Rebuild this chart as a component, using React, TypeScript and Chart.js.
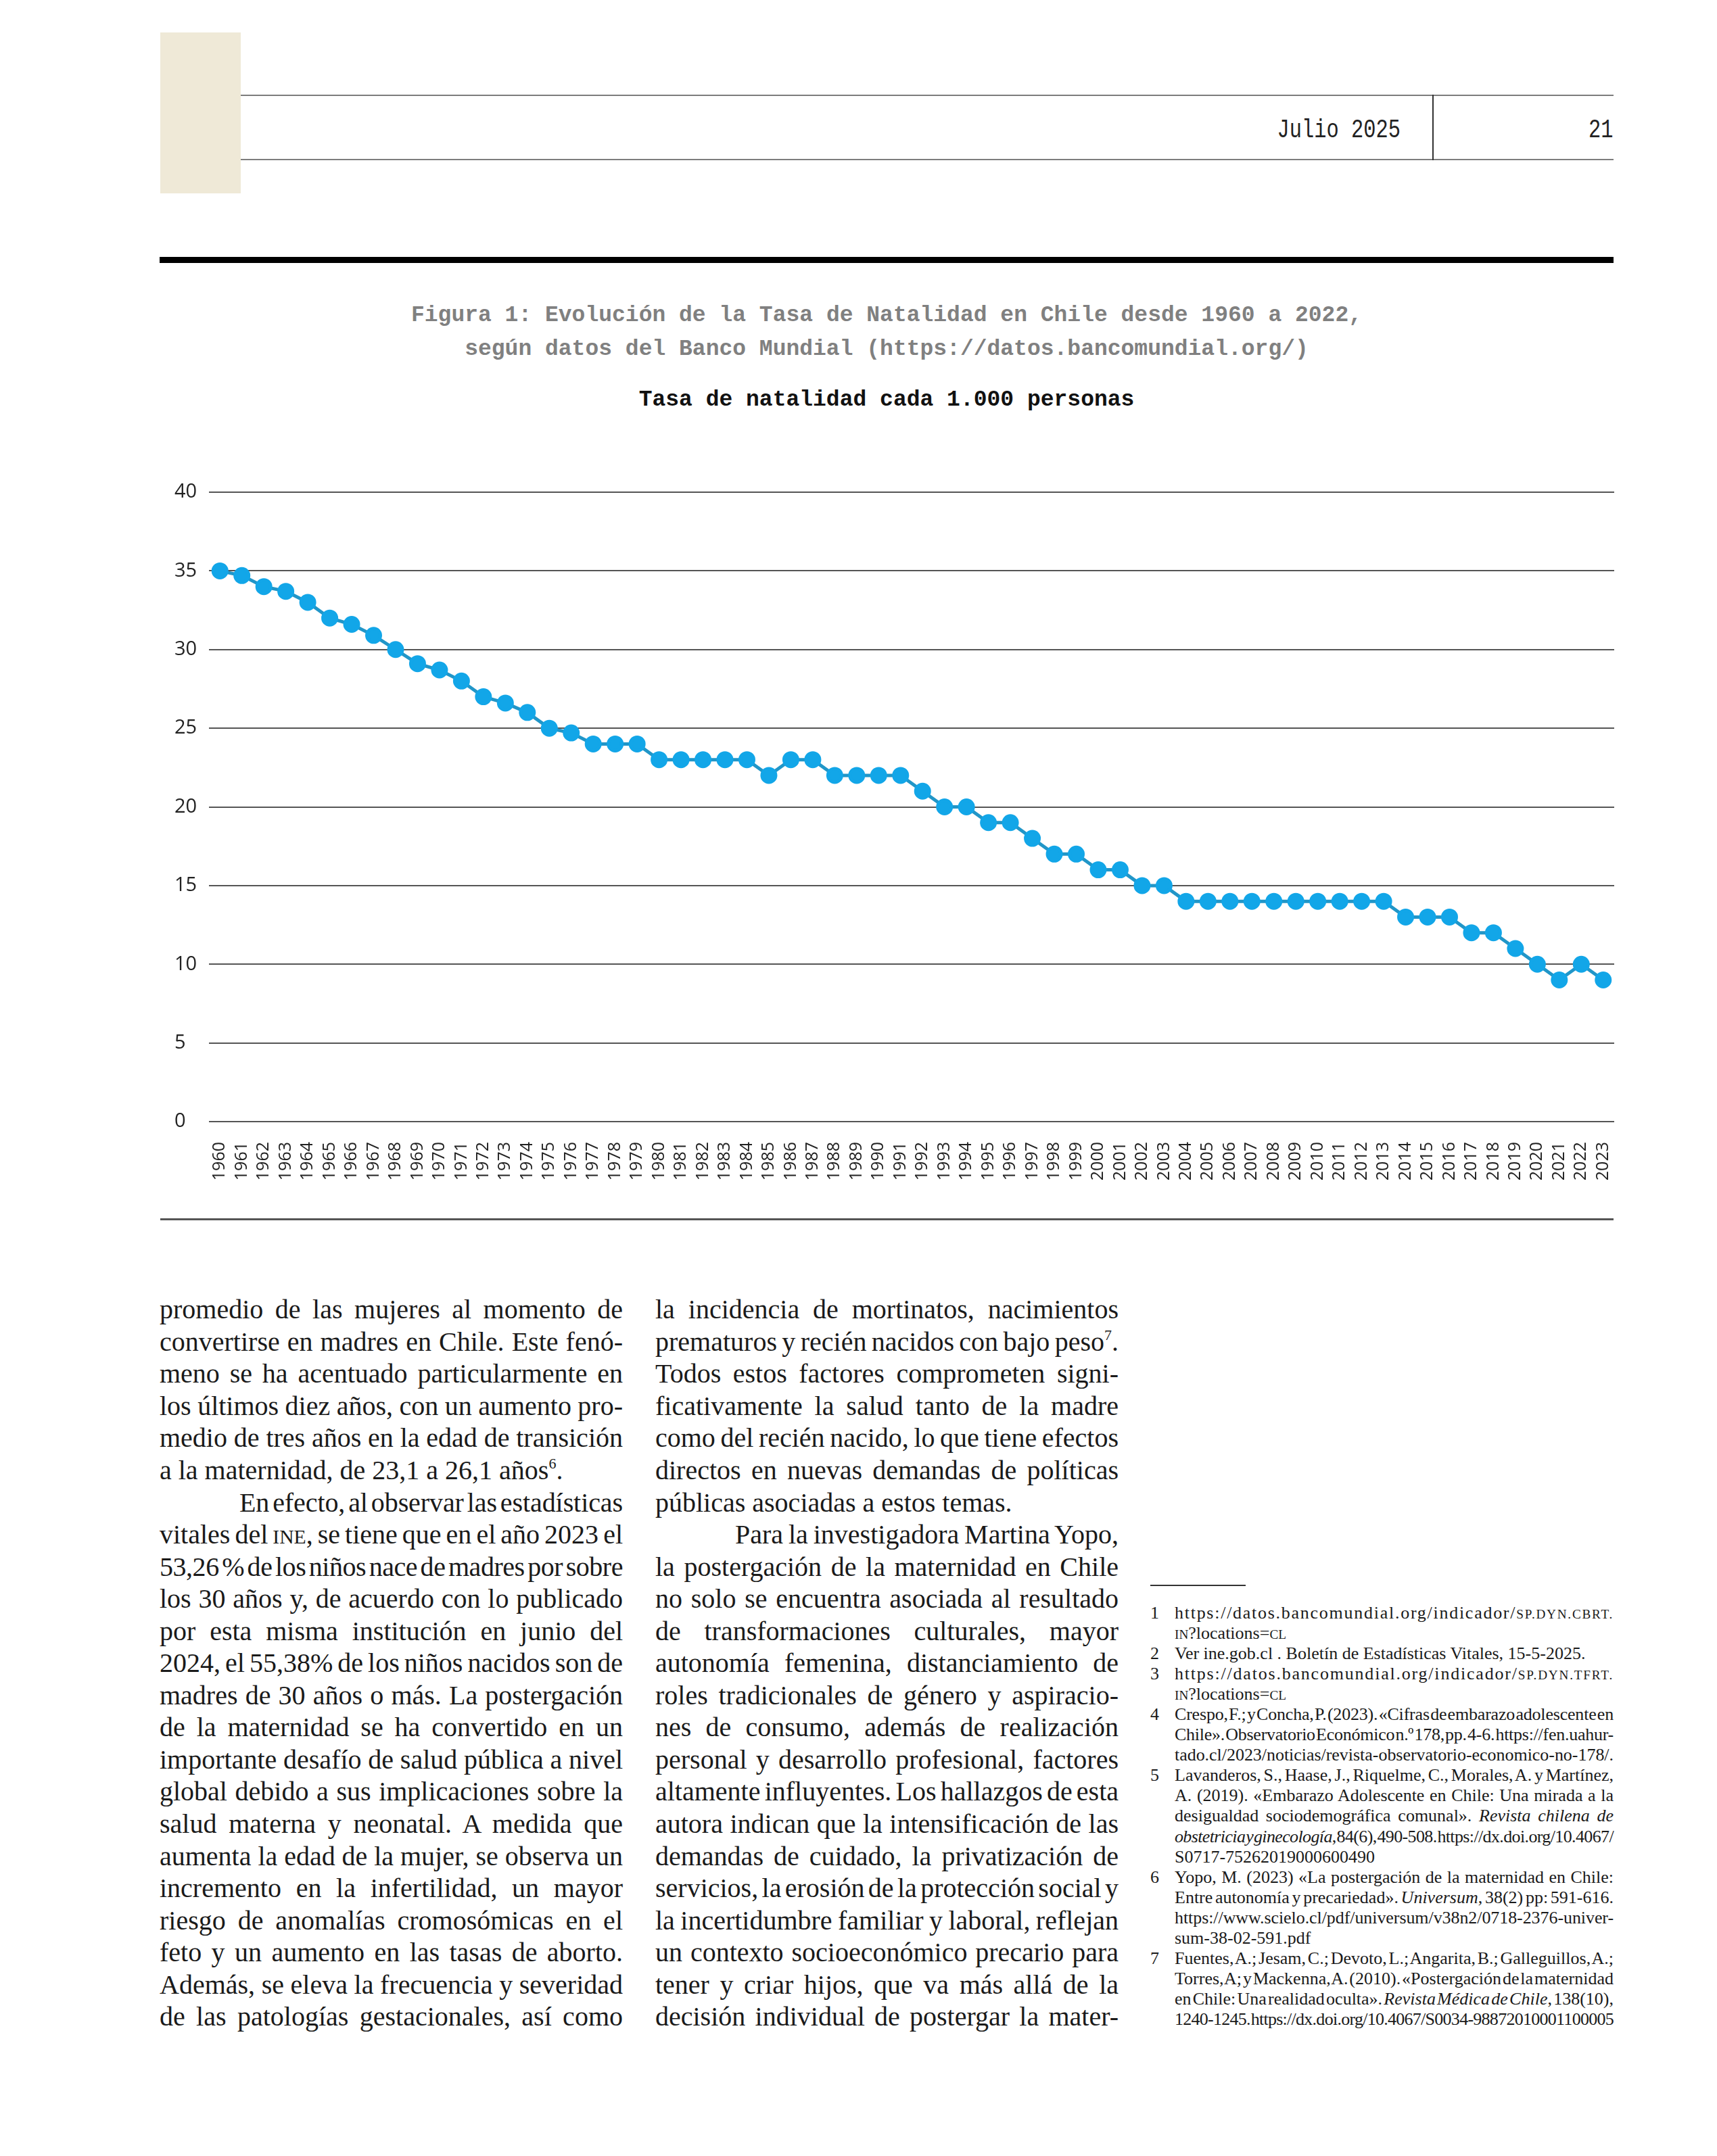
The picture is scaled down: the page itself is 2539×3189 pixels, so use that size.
import React, { useEffect, useLayoutEffect, useRef } from "react";
import { Chart, registerables } from "chart.js";

Chart.register(...registerables);

// ---------- chart data ----------
const yearLabels = [
  "1960", "1961", "1962", "1963", "1964", "1965", "1966", "1967", "1968", "1969",
  "1970", "1971", "1972", "1973", "1974", "1975", "1976", "1977", "1978", "1979",
  "1980", "1981", "1982", "1983", "1984", "1985", "1986", "1987", "1988", "1989",
  "1990", "1991", "1992", "1993", "1994", "1995", "1996", "1997", "1998", "1999",
  "2000", "2001", "2002", "2003", "2004", "2005", "2006", "2007", "2008", "2009",
  "2010", "2011", "2012", "2013", "2014", "2015", "2016", "2017", "2018", "2019",
  "2020", "2021", "2022", "2023",
];

const birthRate = [
  35, 34.7, 34, 33.7, 33, 32, 31.6, 30.9, 30, 29.1,
  28.7, 28, 27, 26.6, 26, 25, 24.7, 24, 24, 24,
  23, 23, 23, 23, 23, 22, 23, 23, 22, 22,
  22, 22, 21, 20, 20, 19, 19, 18, 17, 17,
  16, 16, 15, 15, 14, 14, 14, 14, 14, 14,
  14, 14, 14, 14, 13, 13, 13, 12, 12, 11,
  10, 9, 10, 9,
];

const yAxisMin = 0;
const yAxisMax = 40;
const yAxisStep = 5;

// ---------- page text ----------
const headerDate = "Julio 2025";
const headerPage = "21";
const figureTitle1 = "Figura 1: Evolución de la Tasa de Natalidad en Chile desde 1960 a 2022,";
const figureTitle2 = "según datos del Banco Mundial (https://datos.bancomundial.org/)";
const chartTitle = "Tasa de natalidad cada 1.000 personas";

type Line = { t: string; j: boolean; ind?: boolean; n?: string };

const col1Lines: Line[] = [
  { t: "promedio de las mujeres al momento de", j: true },
  { t: "convertirse en madres en Chile. Este fenó-", j: true },
  { t: "meno se ha acentuado particularmente en", j: true },
  { t: "los últimos diez años, con un aumento pro-", j: true },
  { t: "medio de tres años en la edad de transición", j: true },
  { t: "a la maternidad, de 23,1 a 26,1 años^6.", j: false },
  { t: "En efecto, al observar las estadísticas", j: true, ind: true },
  { t: "vitales del {INE}, se tiene que en el año 2023 el", j: true },
  { t: "53,26 % de los niños nace de madres por sobre", j: true },
  { t: "los 30 años y, de acuerdo con lo publicado", j: true },
  { t: "por esta misma institución en junio del", j: true },
  { t: "2024, el 55,38% de los niños nacidos son de", j: true },
  { t: "madres de 30 años o más. La postergación", j: true },
  { t: "de la maternidad se ha convertido en un", j: true },
  { t: "importante desafío de salud pública a nivel", j: true },
  { t: "global debido a sus implicaciones sobre la", j: true },
  { t: "salud materna y neonatal. A medida que", j: true },
  { t: "aumenta la edad de la mujer, se observa un", j: true },
  { t: "incremento en la infertilidad, un mayor", j: true },
  { t: "riesgo de anomalías cromosómicas en el", j: true },
  { t: "feto y un aumento en las tasas de aborto.", j: true },
  { t: "Además, se eleva la frecuencia y severidad", j: true },
  { t: "de las patologías gestacionales, así como", j: true },
];

const col2Lines: Line[] = [
  { t: "la incidencia de mortinatos, nacimientos", j: true },
  { t: "prematuros y recién nacidos con bajo peso^7.", j: true },
  { t: "Todos estos factores comprometen signi-", j: true },
  { t: "ficativamente la salud tanto de la madre", j: true },
  { t: "como del recién nacido, lo que tiene efectos", j: true },
  { t: "directos en nuevas demandas de políticas", j: true },
  { t: "públicas asociadas a estos temas.", j: false },
  { t: "Para la investigadora Martina Yopo,", j: true, ind: true },
  { t: "la postergación de la maternidad en Chile", j: true },
  { t: "no solo se encuentra asociada al resultado", j: true },
  { t: "de transformaciones culturales, mayor", j: true },
  { t: "autonomía femenina, distanciamiento de", j: true },
  { t: "roles tradicionales de género y aspiracio-", j: true },
  { t: "nes de consumo, además de realización", j: true },
  { t: "personal y desarrollo profesional, factores", j: true },
  { t: "altamente influyentes. Los hallazgos de esta", j: true },
  { t: "autora indican que la intensificación de las", j: true },
  { t: "demandas de cuidado, la privatización de", j: true },
  { t: "servicios, la erosión de la protección social y", j: true },
  { t: "la incertidumbre familiar y laboral, reflejan", j: true },
  { t: "un contexto socioeconómico precario para", j: true },
  { t: "tener y criar hijos, que va más allá de la", j: true },
  { t: "decisión individual de postergar la mater-", j: true },
];

const footnoteLines: Line[] = [
  { n: "1", t: "https://datos.bancomundial.org/indicador/{SP.DYN.CBRT.}", j: true },
  { t: "{IN}?locations={CL}", j: false },
  { n: "2", t: "Ver ine.gob.cl . Boletín de Estadísticas Vitales, 15-5-2025.", j: false },
  { n: "3", t: "https://datos.bancomundial.org/indicador/{SP.DYN.TFRT.}", j: true },
  { t: "{IN}?locations={CL}", j: false },
  { n: "4", t: "Crespo, F.; y Concha, P. (2023). «Cifras de embarazo adolescente en", j: true },
  { t: "Chile». Observatorio Económico n.º 178, pp. 4-6. https://fen.uahur-", j: true },
  { t: "tado.cl/2023/noticias/revista-observatorio-economico-no-178/.", j: true },
  { n: "5", t: "Lavanderos, S., Haase, J., Riquelme, C., Morales, A. y Martínez,", j: true },
  { t: "A. (2019). «Embarazo Adolescente en Chile: Una mirada a la", j: true },
  { t: "desigualdad sociodemográfica comunal». *Revista chilena de*", j: true },
  { t: "*obstetricia y ginecología*, 84(6), 490-508. https://dx.doi.org/10.4067/", j: true },
  { t: "S0717-75262019000600490", j: false },
  { n: "6", t: "Yopo, M. (2023) «La postergación de la maternidad en Chile:", j: true },
  { t: "Entre autonomía y precariedad». *Universum*, 38(2) pp: 591-616.", j: true },
  { t: "https://www.scielo.cl/pdf/universum/v38n2/0718-2376-univer-", j: true },
  { t: "sum-38-02-591.pdf", j: false },
  { n: "7", t: "Fuentes, A.; Jesam, C.; Devoto, L.; Angarita, B.; Galleguillos, A.;", j: true },
  { t: "Torres, A; y Mackenna, A. (2010). «Postergación de la maternidad", j: true },
  { t: "en Chile: Una realidad oculta». *Revista Médica de Chile*, 138(10),", j: true },
  { t: "1240-1245. https://dx.doi.org/10.4067/S0034-98872010001100005", j: true },
];

// ---------- helpers ----------
function renderRich(s: string) {
  const parts = s.split(/(\^\d|\{[^}]*\}|\*[^*]*\*)/).filter((p) => p !== "");
  return parts.map((p, i) => {
    if (p.startsWith("^")) {
      return (
        <span key={i} style={{ fontSize: "0.55em", verticalAlign: "0.75em", lineHeight: 0 }}>
          {p.slice(1)}
        </span>
      );
    }
    if (p.startsWith("{")) {
      return (
        <span key={i} style={{ fontSize: "0.74em" }}>
          {p.slice(1, -1)}
        </span>
      );
    }
    if (p.startsWith("*")) {
      return (
        <span key={i} style={{ fontStyle: "italic" }}>
          {p.slice(1, -1)}
        </span>
      );
    }
    return <React.Fragment key={i}>{p}</React.Fragment>;
  });
}

const SERIF = '"Liberation Serif", "Times New Roman", serif';
const MONO = '"Liberation Mono", "DejaVu Sans Mono", monospace';
const SANS = '"Open Sans", "Noto Sans", sans-serif';

function TextColumn(props: {
  lines: Line[];
  left: number;
  width: number;
  firstCenter: number;
  step: number;
  fontSize: number;
  indent: number;
  numberLeft?: number;
}) {
  const { lines, left, width, firstCenter, step, fontSize, indent, numberLeft } = props;
  return (
    <>
      {lines.map((ln, i) => {
        const cy = firstCenter + i * step;
        const x = left + (ln.ind ? indent : 0);
        const w = width - (ln.ind ? indent : 0);
        return (
          <React.Fragment key={i}>
            {ln.n !== undefined && numberLeft !== undefined ? (
              <div
                style={{
                  position: "absolute",
                  left: numberLeft,
                  top: cy - step / 2,
                  height: step,
                  lineHeight: step + "px",
                  fontFamily: SERIF,
                  fontSize,
                  color: "#1a1a1a",
                  whiteSpace: "pre",
                }}
              >
                {ln.n}
              </div>
            ) : null}
            <div
              style={{
                position: "absolute",
                left: x,
                top: cy - step / 2,
                width: w,
                height: step,
                lineHeight: step + "px",
                fontFamily: SERIF,
                fontSize,
                color: "#1a1a1a",
                whiteSpace: "pre",
              }}
            >
              <span
                data-w={ln.j ? String(w) : undefined}
                style={{ display: "inline-block", whiteSpace: "pre" }}
              >
                {renderRich(ln.t)}
              </span>
            </div>
          </React.Fragment>
        );
      })}
    </>
  );
}

const CANVAS_W = 2144;
const CANVAS_H = 1070;

function BirthRateChart() {
  const ref = useRef<HTMLCanvasElement | null>(null);
  useEffect(() => {
    const canvas = ref.current;
    if (!canvas) return;
    const chart = new Chart(canvas, {
      type: "line",
      data: {
        labels: yearLabels,
        datasets: [
          {
            label: "Tasa de natalidad",
            data: birthRate,
            borderColor: "#2196c8",
            backgroundColor: "#12a6e8",
            pointBackgroundColor: "#12a6e8",
            pointBorderColor: "#12a6e8",
            pointRadius: 10,
            pointHoverRadius: 10,
            borderWidth: 5,
            tension: 0,
            fill: false,
          },
        ],
      },
      options: {
        animation: false,
        responsive: false,
        devicePixelRatio: 1,
        events: [],
        layout: { padding: { top: 28, left: 0, right: 0, bottom: 0 } },
        plugins: {
          legend: { display: false },
          title: { display: false },
          tooltip: { enabled: false },
        },
        scales: {
          x: {
            type: "category",
            offset: true,
            grid: { display: false, drawTicks: false },
            border: { display: false },
            ticks: {
              autoSkip: false,
              maxRotation: 90,
              minRotation: 90,
              padding: 30,
              color: "#222",
              font: { family: SANS, size: 25 },
            },
            afterFit: (s: any) => {
              s.height = 111;
              s.paddingLeft = 0;
              s.paddingRight = 0;
            },
          },
          y: {
            min: yAxisMin,
            max: yAxisMax,
            grid: { color: "#555", lineWidth: 2, drawTicks: false },
            border: { display: false },
            ticks: {
              stepSize: yAxisStep,
              crossAlign: "far",
              padding: 0,
              color: "#222",
              font: { family: SANS, size: 29 },
            },
            afterFit: (s: any) => {
              s.width = 51;
              s.paddingTop = 0;
              s.paddingBottom = 0;
            },
          },
        },
      } as any,
    });
    return () => chart.destroy();
  }, []);
  return (
    <canvas
      ref={ref}
      width={CANVAS_W}
      height={CANVAS_H}
      style={{ position: "absolute", left: 258, top: 700, width: CANVAS_W, height: CANVAS_H }}
    />
  );
}

export default function App() {
  useLayoutEffect(() => {
    const apply = () => {
      document.querySelectorAll<HTMLSpanElement>("span[data-w]").forEach((el) => {
        el.style.wordSpacing = "0px";
        el.style.letterSpacing = "0px";
        const natural = el.getBoundingClientRect().width;
        const W = parseFloat(el.dataset.w || "0");
        const txt = el.textContent || "";
        const spaces = (txt.match(/ /g) || []).length;
        const chars = txt.length;
        const diff = W - natural;
        let ws = 0;
        let ls = 0;
        if (spaces > 0) {
          ws = diff / spaces;
          if (ws < -5) {
            ws = -5;
            ls = (diff + 5 * spaces) / chars;
          }
        } else {
          ls = diff / chars;
        }
        el.style.wordSpacing = ws + "px";
        el.style.letterSpacing = ls + "px";
      });
    };
    apply();
    const fonts: any = (document as any).fonts;
    if (fonts && fonts.ready) fonts.ready.then(apply);
  }, []);

  return (
    <div
      style={{
        position: "absolute",
        left: 0,
        top: 0,
        width: 2539,
        height: 3189,
        background: "#ffffff",
        overflow: "hidden",
      }}
    >
      {/* beige tab */}
      <div style={{ position: "absolute", left: 237, top: 48, width: 119, height: 238, background: "#efe9d7" }} />
      {/* header rules */}
      <div style={{ position: "absolute", left: 356, top: 140, width: 2030, height: 2, background: "#7d7d7d" }} />
      <div style={{ position: "absolute", left: 356, top: 235, width: 2030, height: 2, background: "#7d7d7d" }} />
      <div style={{ position: "absolute", left: 2118, top: 140, width: 2, height: 97, background: "#333" }} />
      <div
        style={{
          position: "absolute",
          right: 2539 - 2071,
          top: 168,
          lineHeight: "50px",
          fontFamily: MONO,
          fontSize: 38,
          color: "#222",
          whiteSpace: "pre",
          transform: "scaleX(0.8)",
          transformOrigin: "right center",
        }}
      >
        {headerDate}
      </div>
      <div
        style={{
          position: "absolute",
          right: 2539 - 2386,
          top: 168,
          lineHeight: "50px",
          fontFamily: MONO,
          fontSize: 38,
          color: "#222",
          whiteSpace: "pre",
          transform: "scaleX(0.8)",
          transformOrigin: "right center",
        }}
      >
        {headerPage}
      </div>

      {/* thick rule */}
      <div style={{ position: "absolute", left: 236, top: 380, width: 2150, height: 9, background: "#000" }} />

      {/* figure caption */}
      <div
        style={{
          position: "absolute",
          left: 236,
          width: 2150,
          top: 442,
          textAlign: "center",
          fontFamily: MONO,
          fontWeight: "bold",
          fontSize: 33,
          lineHeight: "50px",
          color: "#808080",
          whiteSpace: "pre",
        }}
      >
        <div>{figureTitle1}</div>
        <div>{figureTitle2}</div>
      </div>
      <div
        style={{
          position: "absolute",
          left: 236,
          width: 2150,
          top: 567,
          textAlign: "center",
          fontFamily: MONO,
          fontWeight: "bold",
          fontSize: 33,
          lineHeight: "50px",
          color: "#111",
          whiteSpace: "pre",
        }}
      >
        {chartTitle}
      </div>

      <BirthRateChart />

      {/* bottom rule of figure */}
      <div style={{ position: "absolute", left: 237, top: 1802, width: 2149, height: 3, background: "#555" }} />

      {/* body columns */}
      <TextColumn lines={col1Lines} left={236} width={685} firstCenter={1937} step={47.55} fontSize={40} indent={118} />
      <TextColumn lines={col2Lines} left={969} width={685} firstCenter={1937} step={47.55} fontSize={40} indent={118} />

      {/* footnotes */}
      <div style={{ position: "absolute", left: 1701, top: 2344, width: 141, height: 2, background: "#333" }} />
      <TextColumn
        lines={footnoteLines}
        left={1737}
        width={649}
        firstCenter={2386}
        step={30.05}
        fontSize={26}
        indent={0}
        numberLeft={1701}
      />
    </div>
  );
}
